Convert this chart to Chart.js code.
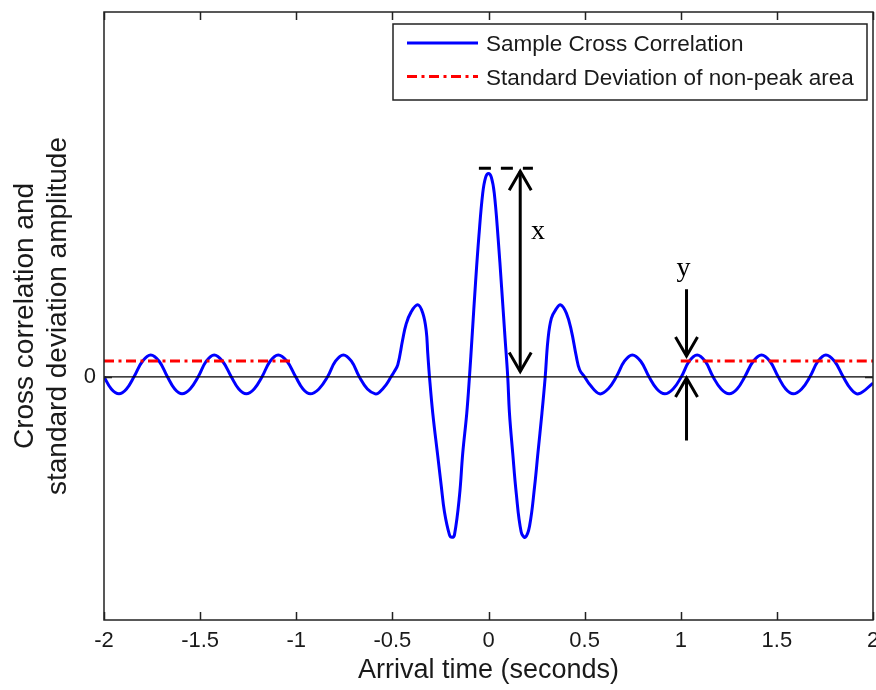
<!DOCTYPE html>
<html>
<head>
<meta charset="utf-8">
<script src="https://cdn.jsdelivr.net/npm/chart.js@4.4.0/dist/chart.umd.min.js"></script>
<style>
html, body { margin: 0; padding: 0; background: #fff; }
#wrap { width: 876px; height: 690px; }
</style>
</head>
<body>
<div id="wrap"><canvas id="chart"></canvas></div>
<script>
// arrival time (s) and sample cross correlation
const times = [
    -2.000, -1.962, -1.922, -1.883, -1.844, -1.800, -1.757, -1.713, -1.670, -1.632,
    -1.594, -1.552, -1.510, -1.468, -1.427, -1.383, -1.338, -1.299, -1.260, -1.219,
    -1.178, -1.136, -1.094, -1.048, -1.003, -0.965, -0.927, -0.882, -0.837, -0.796,
    -0.755, -0.713, -0.672, -0.630, -0.589, -0.568, -0.533, -0.507, -0.490, -0.472,
    -0.447, -0.429, -0.403, -0.368, -0.342, -0.324, -0.316, -0.307, -0.290, -0.264,
    -0.246, -0.229, -0.203, -0.190, -0.177, -0.151, -0.134, -0.113, -0.099, -0.085,
    -0.068, -0.050, -0.030, -0.015, 0.000, 0.015, 0.030, 0.050, 0.068, 0.086,
    0.100, 0.109, 0.126, 0.144, 0.170, 0.191, 0.214, 0.240, 0.257, 0.278,
    0.295, 0.309, 0.327, 0.353, 0.375, 0.405, 0.431, 0.457, 0.474, 0.500,
    0.530, 0.578, 0.622, 0.665, 0.707, 0.748, 0.792, 0.835, 0.876, 0.917,
    0.960, 1.003, 1.044, 1.085, 1.127, 1.168, 1.210, 1.252, 1.293, 1.333,
    1.377, 1.420, 1.464, 1.507, 1.546, 1.585, 1.629, 1.672, 1.714, 1.755,
    1.800, 1.845, 1.885, 1.925, 2.000
];
const corr = [
    0.000, -0.050, -0.070, -0.050, 0.000, 0.064, 0.090, 0.064, 0.000, -0.050,
    -0.070, -0.050, 0.000, 0.064, 0.090, 0.064, 0.000, -0.050, -0.070, -0.050,
    0.000, 0.064, 0.090, 0.064, 0.000, -0.050, -0.070, -0.050, 0.000, 0.064,
    0.090, 0.064, 0.000, -0.050, -0.070, -0.064, -0.033, 0.000, 0.022, 0.049,
    0.150, 0.215, 0.266, 0.296, 0.262, 0.190, 0.097, 0.000, -0.149, -0.325,
    -0.447, -0.556, -0.650, -0.660, -0.650, -0.490, -0.314, -0.149, 0.000, 0.170,
    0.380, 0.578, 0.755, 0.820, 0.836, 0.820, 0.755, 0.570, 0.370, 0.160,
    0.000, -0.149, -0.314, -0.476, -0.638, -0.660, -0.612, -0.449, -0.314, -0.149,
    0.000, 0.150, 0.240, 0.280, 0.296, 0.262, 0.190, 0.083, 0.029, 0.000,
    -0.035, -0.070, -0.050, 0.000, 0.064, 0.090, 0.064, 0.000, -0.050, -0.070,
    -0.050, 0.000, 0.064, 0.090, 0.064, 0.000, -0.050, -0.070, -0.050, 0.000,
    0.064, 0.090, 0.064, 0.000, -0.050, -0.070, -0.050, 0.000, 0.064, 0.090,
    0.064, 0.000, -0.050, -0.070, -0.026
];

// standard deviation of the non-peak area, drawn on two stretches
const stdLevel = 0.065;
const stdLeft = [-2.0, -1.03];
const stdRight = [1.0, 2.0];

const xTicks = [-2, -1.5, -1, -0.5, 0, 0.5, 1, 1.5, 2];
const yTicks = [0];

// annotation marks, in data units
const peakMark = { y: 0.858, x0: -0.05, x1: 0.231 };
const arrowX = { x: 0.165, top: 0.845, bottom: 0.022 };
const arrowDown = { x: 1.03, from: 0.36, to: 0.086 };
const arrowUp = { x: 1.03, from: -0.262, to: -0.005 };
const marks = [
    { text: 'x', x: 0.257, y: 0.566 },
    { text: 'y', x: 1.014, y: 0.415 }
];

const SANS = '"Liberation Sans", Arial, Helvetica, sans-serif';
const SERIF = '"Liberation Serif", "Times New Roman", serif';
const INK = '#1a1a1a';

function arrowHead(ctx, px, tipY, dir) {
    // dir = -1 points up, 1 points down
    ctx.beginPath();
    ctx.moveTo(px - 11, tipY - dir * 19);
    ctx.lineTo(px, tipY);
    ctx.lineTo(px + 11, tipY - dir * 19);
    ctx.stroke();
}

const framePlugin = {
    id: 'frame',
    afterDatasetsDraw(chart) {
        const { ctx, chartArea: a, scales: { x, y } } = chart;
        ctx.save();

        // inward tick marks and the box
        ctx.strokeStyle = '#222';
        ctx.lineWidth = 1.5;
        ctx.beginPath();
        x.ticks.forEach((t, i) => {
            const px = Math.round(x.getPixelForTick(i)) + 0.5;
            ctx.moveTo(px, a.bottom);
            ctx.lineTo(px, a.bottom - 8);
            ctx.moveTo(px, a.top);
            ctx.lineTo(px, a.top + 8);
        });
        y.ticks.forEach((t, i) => {
            const py = Math.round(y.getPixelForTick(i)) + 0.5;
            ctx.moveTo(a.left, py);
            ctx.lineTo(a.left + 8, py);
            ctx.moveTo(a.right, py);
            ctx.lineTo(a.right - 8, py);
        });
        ctx.stroke();
        ctx.strokeRect(a.left, a.top, a.right - a.left, a.bottom - a.top);

        // peak marker and arrows
        ctx.strokeStyle = '#000';
        ctx.lineWidth = 3;
        ctx.setLineDash([12, 10]);
        ctx.beginPath();
        ctx.moveTo(x.getPixelForValue(peakMark.x0), y.getPixelForValue(peakMark.y));
        ctx.lineTo(x.getPixelForValue(peakMark.x1), y.getPixelForValue(peakMark.y));
        ctx.stroke();
        ctx.setLineDash([]);

        let px = x.getPixelForValue(arrowX.x);
        const t = y.getPixelForValue(arrowX.top);
        const b = y.getPixelForValue(arrowX.bottom);
        ctx.beginPath();
        ctx.moveTo(px, t);
        ctx.lineTo(px, b);
        ctx.stroke();
        arrowHead(ctx, px, t, -1);
        arrowHead(ctx, px, b, 1);

        px = x.getPixelForValue(arrowDown.x);
        ctx.beginPath();
        ctx.moveTo(px, y.getPixelForValue(arrowDown.from));
        ctx.lineTo(px, y.getPixelForValue(arrowDown.to));
        ctx.moveTo(px, y.getPixelForValue(arrowUp.from));
        ctx.lineTo(px, y.getPixelForValue(arrowUp.to));
        ctx.stroke();
        arrowHead(ctx, px, y.getPixelForValue(arrowDown.to), 1);
        arrowHead(ctx, px, y.getPixelForValue(arrowUp.to), -1);

        ctx.fillStyle = '#000';
        ctx.font = '28px ' + SERIF;
        ctx.textAlign = 'center';
        ctx.textBaseline = 'alphabetic';
        marks.forEach(m => {
            ctx.fillText(m.text, x.getPixelForValue(m.x), y.getPixelForValue(m.y));
        });
        ctx.restore();
    },
    afterDraw(chart) {
        // legend box in the top right corner
        const { ctx, chartArea: a } = chart;
        const w = 474, h = 76;
        const left = a.right - 6 - w;
        const top = a.top + 12;
        ctx.save();
        ctx.fillStyle = '#fff';
        ctx.fillRect(left, top, w, h);
        ctx.strokeStyle = '#222';
        ctx.lineWidth = 1.5;
        ctx.strokeRect(left, top, w, h);

        const items = chart.data.datasets.filter(d => d.inLegend);
        items.forEach((d, i) => {
            const rowY = top + 19 + i * 33.5;
            ctx.strokeStyle = d.borderColor;
            ctx.lineWidth = d.borderWidth;
            ctx.setLineDash(d.borderDash || []);
            ctx.beginPath();
            ctx.moveTo(left + 14, rowY);
            ctx.lineTo(left + 85, rowY);
            ctx.stroke();
            ctx.setLineDash([]);
            ctx.fillStyle = INK;
            ctx.font = '22.5px ' + SANS;
            ctx.textAlign = 'left';
            ctx.textBaseline = 'middle';
            ctx.fillText(d.label, left + 93, rowY + 2);
        });
        ctx.restore();
    }
};

const corrData = times.map((t, i) => ({ x: t, y: corr[i] }));
const stdData = [
    { x: stdLeft[0], y: stdLevel }, { x: stdLeft[1], y: stdLevel },
    { x: 0, y: null },
    { x: stdRight[0], y: stdLevel }, { x: stdRight[1], y: stdLevel }
];
const zeroData = [{ x: xTicks[0], y: 0 }, { x: xTicks[xTicks.length - 1], y: 0 }];

new Chart(document.getElementById('chart'), {
    type: 'line',
    data: {
        datasets: [
            {
                label: 'Zero',
                data: zeroData,
                borderColor: '#000',
                borderWidth: 1.2,
                pointRadius: 0,
                order: 0
            },
            {
                label: 'Sample Cross Correlation',
                data: corrData,
                borderColor: '#0000ff',
                borderWidth: 3,
                pointRadius: 0,
                tension: 0.4,
                inLegend: true,
                order: 2
            },
            {
                label: 'Standard Deviation of non-peak area',
                data: stdData,
                borderColor: '#ff0000',
                borderWidth: 3,
                borderDash: [10, 4.5, 3, 4.5],
                pointRadius: 0,
                spanGaps: false,
                inLegend: true,
                order: 1
            }
        ]
    },
    options: {
        responsive: true,
        maintainAspectRatio: false,
        animation: false,
        layout: { padding: { top: 12, right: 3, bottom: 0, left: 0 } },
        plugins: {
            legend: { display: false },
            tooltip: { enabled: false }
        },
        scales: {
            x: {
                type: 'linear',
                min: -2,
                max: 2,
                afterBuildTicks: scale => {
                    scale.ticks = xTicks.map(v => ({ value: v }));
                },
                afterFit: scale => {
                    scale.height = 70;
                    scale.paddingRight = 0;
                },
                grid: { display: false, drawTicks: false, tickLength: 0 },
                border: { display: false },
                ticks: {
                    color: INK,
                    padding: 8,
                    maxRotation: 0,
                    autoSkip: false,
                    callback: v => String(v),
                    font: { family: SANS, size: 22 }
                },
                title: {
                    display: true,
                    text: 'Arrival time (seconds)',
                    color: INK,
                    padding: { top: 0, bottom: 3 },
                    font: { family: SANS, size: 27 }
                }
            },
            y: {
                type: 'linear',
                min: -1,
                max: 1.5,
                afterBuildTicks: scale => {
                    scale.ticks = yTicks.map(v => ({ value: v }));
                },
                afterFit: scale => {
                    scale.width = 104;
                    scale.paddingTop = 0;
                    scale.paddingBottom = 0;
                },
                grid: { display: false, drawTicks: false, tickLength: 0 },
                border: { display: false },
                ticks: {
                    color: INK,
                    padding: 8,
                    callback: v => String(v),
                    font: { family: SANS, size: 22 }
                },
                title: {
                    display: true,
                    text: ['Cross correlation and', 'standard deviation amplitude'],
                    color: INK,
                    padding: { top: 8, bottom: 0 },
                    font: { family: SANS, size: 28 }
                }
            }
        }
    },
    plugins: [framePlugin]
});
</script>
</body>
</html>
